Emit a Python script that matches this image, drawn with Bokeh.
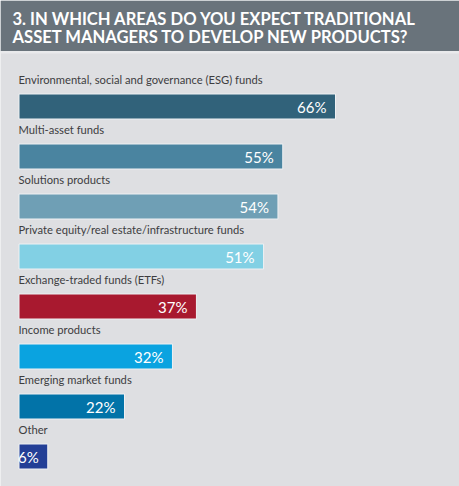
from bokeh.plotting import figure
from bokeh.models import ColumnDataSource, Range1d
from bokeh.core.properties import value
from bokeh.embed import file_html
from bokeh.resources import INLINE

# Survey answers, top to bottom
categories = [
    "Environmental, social and governance (ESG) funds",
    "Multi-asset funds",
    "Solutions products",
    "Private equity/real estate/infrastructure funds",
    "Exchange-traded funds (ETFs)",
    "Income products",
    "Emerging market funds",
    "Other",
]
shares = [66, 55, 54, 51, 37, 32, 22, 6]
bar_colors = ["#31627a", "#4a84a0", "#6f9fb5", "#82d0e4",
              "#a8192f", "#0aa3e0", "#0273a8", "#233f96"]
title_lines = ["3. IN WHICH AREAS DO YOU EXPECT TRADITIONAL",
               "ASSET MANAGERS TO DEVELOP NEW PRODUCTS?"]

W, H = 459, 486
LEFT = 18.5          # pixel where the bars start
PX_PER_PCT = (335 - LEFT) / 66.0
FIRST_ROW = 106      # pixel centre of first bar
ROW_STEP = 50
BAR_H = 25

rows = list(range(len(categories)))
ys = [FIRST_ROW + ROW_STEP * i for i in rows]

src = ColumnDataSource(dict(
    cat=categories,
    share=shares,
    y=ys,
    label_y=[y - 27 for y in ys],
    pct=[f"{v}%" for v in shares],
    color=bar_colors,
))

# x in percent, y in page pixels (top = 0)
p = figure(width=W, height=H, output_backend="svg", toolbar_location=None,
           x_range=Range1d(-LEFT / PX_PER_PCT, (W - LEFT) / PX_PER_PCT),
           y_range=Range1d(H, 0),
           min_border=0, min_border_left=0, min_border_right=0,
           min_border_top=0, min_border_bottom=0)
p.axis.visible = False
p.grid.visible = False
p.outline_line_color = None
p.background_fill_color = "#dedfe2"
p.border_fill_color = "#dedfe2"

# header band
x0 = p.x_range.start
x1 = p.x_range.end
p.quad(left=x0, right=x1, top=0, bottom=50.5, fill_color="#69737b", line_color=None)
p.quad(left=x0, right=x1, top=50.5, bottom=53, fill_color="#e9eaec", line_color=None)
p.text(x=[x0 + 12 / PX_PER_PCT] * 2, y=[18.5, 36.5], text=title_lines,
       text_font=value("Lato"), text_font_style="bold", text_font_size="16.6px",
       text_color="white", text_baseline="middle", text_align="left")

# bars
p.hbar(y="y", left=0, right="share", height=BAR_H, source=src,
       fill_color="color", line_color="#eef0f3", line_width=1)

# category labels above each bar
p.text(x=0, y="label_y", text="cat", source=src,
       text_font=value("Lato"), text_font_size="11.2px", text_color="#3d3d3f",
       text_baseline="middle", text_align="left", x_offset=-0.5)

# value labels inside bar ends
p.text(x="share", y="y", text="pct", source=src,
       text_font=value("Lato"), text_font_size="15px", text_color="white",
       text_baseline="middle", text_align="right", x_offset=-9)

open("out.html", "w").write(file_html(p, INLINE))
